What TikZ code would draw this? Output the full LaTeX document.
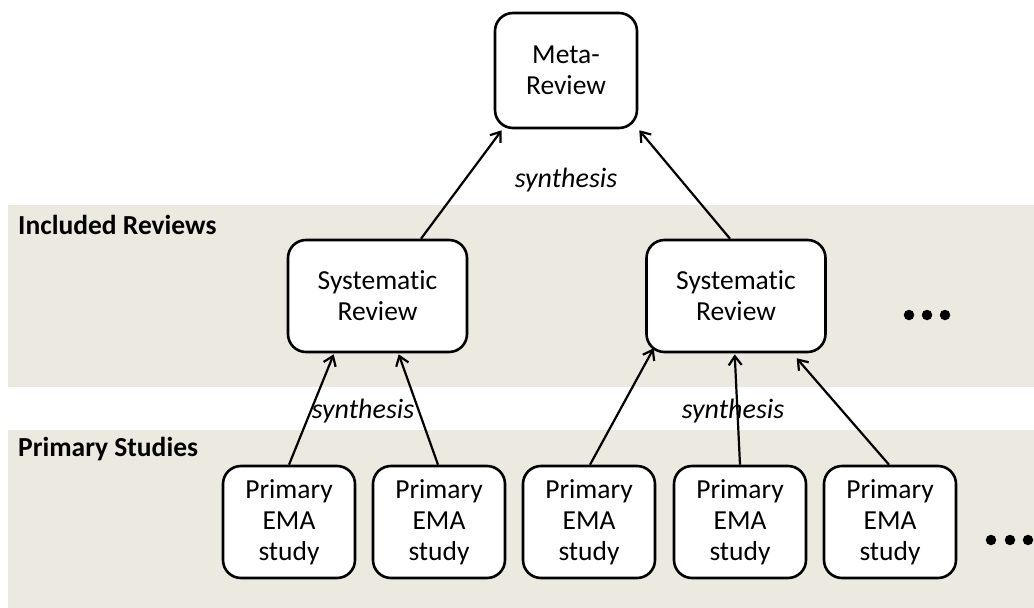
\documentclass[tikz,border=0pt]{standalone}
\usepackage{fontspec}
\setmainfont[Ligatures=NoCommon]{Carlito}
\usetikzlibrary{arrows.meta,calc}
\definecolor{bandfill}{RGB}{236,233,224}
\begin{document}
\begin{tikzpicture}[x=1pt,y=-1pt,
  box/.style={draw=black, line width=2.6pt, fill=white, rounded corners=18pt,
    align=center, inner sep=0pt, font=\fontsize{27.5}{31}\selectfont},
  metabox/.style={box, minimum width=142pt, minimum height=115pt},
  revbox/.style={box, minimum width=179pt, minimum height=112pt},
  studybox/.style={box, minimum width=132pt, minimum height=112pt},
  arr/.style={draw=black, line width=2.2pt, -{Straight Barb[length=9pt,width=13pt,line width=2.2pt]}},
  lbl/.style={font=\fontsize{28}{32}\selectfont\itshape, inner sep=0pt},
  band/.style={font=\fontsize{27.5}{32}\selectfont\bfseries, anchor=west, inner sep=0pt},
  dot/.style={circle, fill=black, inner sep=0pt, minimum size=10.5pt}
]
\useasboundingbox (0,0) rectangle (1034,608);

% background bands
\fill[bandfill] (8,205) rectangle (1034,387);
\fill[bandfill] (8,430) rectangle (1034,608);
\node[band] (incl) at (18,225) {Included Reviews};
\node[band] (prim) at (18,449) {Primary Studies};

% boxes
\node[metabox] (meta) at (566,70.5) {Meta-\\Review};
\node[revbox] (sr1) at (377.5,296) {Systematic\\Review};
\node[revbox] (sr2) at (736,296) {Systematic\\Review};
\node[studybox] (p1) at (289,522) {Primary\\EMA\\study};
\node[studybox] (p2) at (439,522) {Primary\\EMA\\study};
\node[studybox] (p3) at (589,522) {Primary\\EMA\\study};
\node[studybox] (p4) at (740,522) {Primary\\EMA\\study};
\node[studybox] (p5) at (890,522) {Primary\\EMA\\study};

% continuation marks
\node[dot] (ma) at (909,315) {};
\node[dot] (mb) at (927,315) {};
\node[dot] (mc) at (945,315) {};
\node[dot] (na) at (991,540) {};
\node[dot] (nb) at (1010,540) {};
\node[dot] (nc) at (1028,540) {};

% arrow end points on the box edges
\coordinate (m1) at ($(meta.south west)+(8,1)$);
\coordinate (m2) at ($(meta.south east)+(1,1)$);
\coordinate (s1a) at ($(sr1.south west)+(47,1)$);
\coordinate (s1b) at ($(sr1.south west)+(112,1)$);
\coordinate (s2a) at ($(sr2.south west)+(8.5,-5)$);
\coordinate (s2b) at ($(sr2.south west)+(89.5,1)$);
\coordinate (s2c) at ($(sr2.south west)+(151.5,5)$);

% synthesis arrows
\draw[arr] ($(sr1.north)+(43.5,0)$) -- (m1);
\draw[arr] ($(sr2.north)+(-6,0)$) -- (m2);
\draw[arr] (p1.north) -- (s1a);
\draw[arr] ($(p2.north)+(-1,0)$) -- (s1b);
\draw[arr] ($(p3.north)+(1,0)$) -- (s2a);
\draw[arr] (p4.north) -- (s2b);
\draw[arr] ($(p5.north)+(-1,0)$) -- (s2c);

\node[lbl] (syn1) at (566,180) {synthesis};
\node[lbl] (syn2) at (363,411) {synthesis};
\node[lbl] (syn3) at (733,411) {synthesis};
\end{tikzpicture}
\end{document}
